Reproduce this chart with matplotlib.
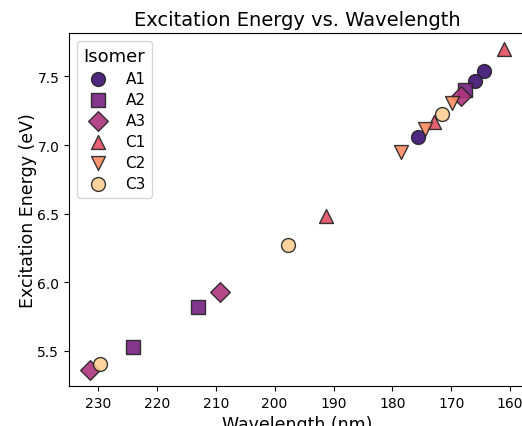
import matplotlib
matplotlib.use("Agg")
import matplotlib.pyplot as plt
import numpy as np

isomers = ["A1", "A2", "A3", "C1", "C2", "C3"]
markers = ["o", "s", "D", "^", "v", "o"]

wavelength = {
    "A1": [175.6, 165.9, 164.4],
    "A2": [224.1, 213.0, 167.7],
    "A3": [231.4, 209.2, 168.3],
    "C1": [191.3, 173.0, 161.0],
    "C2": [178.6, 174.4, 169.8],
    "C3": [229.7, 197.7, 171.5],
}
energy = {
    "A1": [7.06, 7.47, 7.54],
    "A2": [5.53, 5.82, 7.40],
    "A3": [5.36, 5.93, 7.36],
    "C1": [6.48, 7.17, 7.70],
    "C2": [6.95, 7.12, 7.31],
    "C3": [5.40, 6.27, 7.23],
}

colors = plt.cm.magma(np.linspace(0.2, 0.9, len(isomers)))

fig = plt.figure(figsize=(5.22, 4.27), dpi=100)
ax = fig.add_axes([69/522, 40/427, 456/522, 353/427])

for iso, m, c in zip(isomers, markers, colors):
    ax.scatter(wavelength[iso], energy[iso], marker=m, s=100, color=c,
               alpha=0.9, edgecolor="#222222", linewidth=1, label=iso)

ax.invert_xaxis()
ax.set_xticks([230, 220, 210, 200, 190, 180, 170, 160])
ax.set_yticks([5.5, 6.0, 6.5, 7.0, 7.5])
ax.set_xlabel("Wavelength (nm)", fontsize=12.5)
ax.set_ylabel("Excitation Energy (eV)", fontsize=12.5, labelpad=0)
ax.set_title("Excitation Energy vs. Wavelength", fontsize=14)
ax.legend(title="Isomer", fontsize=11, title_fontsize=13, loc="upper left",
          labelspacing=0.4)

fig.savefig("out.png", dpi=100)
